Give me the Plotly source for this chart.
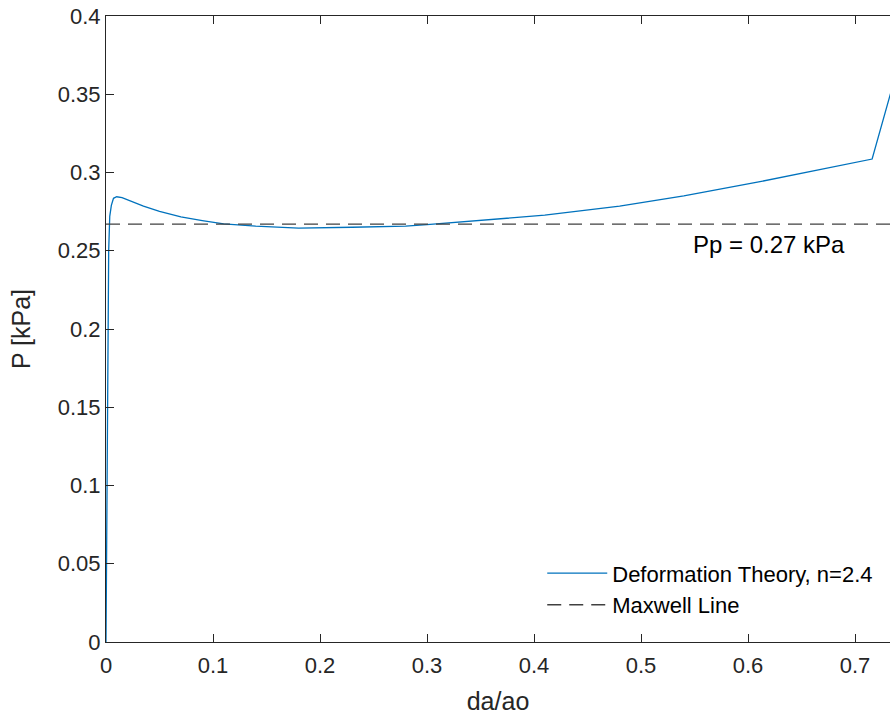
import plotly.graph_objects as go

# Data
da_ao = [0.0, 0.0008, 0.0015, 0.0025, 0.0035, 0.005, 0.007, 0.01, 0.015, 0.022,
         0.035, 0.05, 0.07, 0.09, 0.11, 0.14, 0.18, 0.23, 0.28, 0.30, 0.35,
         0.41, 0.48, 0.54, 0.61, 0.68, 0.716, 0.74]
pressure = [0.0, 0.08, 0.17, 0.25, 0.272, 0.279, 0.2835, 0.2845, 0.2840, 0.2822,
            0.2785, 0.2752, 0.2716, 0.2693, 0.2672, 0.2657, 0.2645, 0.2650, 0.2657, 0.2667, 0.2695,
            0.2727, 0.2785, 0.2850, 0.2940, 0.3035, 0.3086, 0.367]
maxwell_p = 0.267
x_ticks = [0, 0.1, 0.2, 0.3, 0.4, 0.5, 0.6, 0.7]
y_ticks = [0, 0.05, 0.1, 0.15, 0.2, 0.25, 0.3, 0.35, 0.4]
y_tick_labels = ["0", "0.05", "0.1", "0.15", "0.2", "0.25", "0.3", "0.35", "0.4"]
x_range = [0, 0.7327]

font_family = "Liberation Sans, Arial, sans-serif"
axis_col = "#262626"

fig = go.Figure()
fig.add_trace(go.Scatter(
    x=da_ao, y=pressure, mode="lines", name="Deformation Theory, n=2.4",
    line=dict(color="#0072BD", width=1.3)))
fig.add_trace(go.Scatter(
    x=[x_range[0], 0.8], y=[maxwell_p, maxwell_p], mode="lines", name="Maxwell Line",
    line=dict(color="#404040", width=1.3, dash="14px,8px")))

fig.add_annotation(x=0.62, y=0.254, text="Pp = 0.27 kPa", showarrow=False,
                   font=dict(size=24, color="#000000", family=font_family))

fig.update_layout(
    width=890, height=718,
    margin=dict(l=106, r=0, t=16, b=76),
    paper_bgcolor="white", plot_bgcolor="white",
    font=dict(family=font_family, color=axis_col),
    showlegend=True,
    legend=dict(x=0.985, y=0.025, xanchor="right", yanchor="bottom",
                bgcolor="rgba(255,255,255,0)", borderwidth=0,
                font=dict(size=22, color="#000000"), itemwidth=60,
                tracegroupgap=0),
    xaxis=dict(range=x_range, tickvals=x_ticks, ticktext=[str(v) for v in x_ticks],
               showline=True, linecolor=axis_col, linewidth=1, mirror="ticks",
               ticks="inside", ticklen=8, tickcolor=axis_col, showgrid=False, zeroline=False,
               tickfont=dict(size=22, color=axis_col), ticklabelstandoff=4,
               title=dict(text="da/ao", font=dict(size=25, color=axis_col), standoff=15)),
    yaxis=dict(range=[0, 0.4], tickvals=y_ticks, ticktext=y_tick_labels,
               showline=True, linecolor=axis_col, linewidth=1, mirror=False,
               ticks="inside", ticklen=8, tickcolor=axis_col, showgrid=False, zeroline=False,
               tickfont=dict(size=22, color=axis_col),
               title=dict(text="P [kPa]", font=dict(size=25, color=axis_col), standoff=20)),
)

fig.write_html("out.html")
